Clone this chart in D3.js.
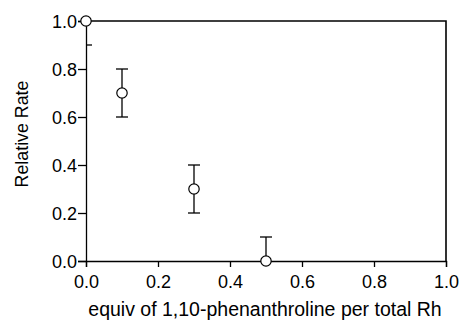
<!DOCTYPE html>
<html><head><meta charset="utf-8">
<script src="https://cdn.jsdelivr.net/npm/d3@7"></script>
<style>body{margin:0;background:#fff}svg{display:block}text{font-family:"Liberation Sans",Arial,sans-serif;fill:#000}</style>
</head><body>
<svg id="c" width="459" height="320"></svg>
<script>
const xValues = [0.0, 0.1, 0.3, 0.5];
const yValues = [1.0, 0.7, 0.3, 0.0];
const yErrors = [0.1, 0.1, 0.1, 0.1];
const xTicks = [0.0, 0.2, 0.4, 0.6, 0.8, 1.0];
const yTicks = [0.0, 0.2, 0.4, 0.6, 0.8, 1.0];
const xTitle = "equiv of 1,10-phenanthroline per total Rh";
const yTitle = "Relative Rate";

const m = {l: 86, t: 21, r: 13, b: 59};
const W = 459, H = 320;
const iw = W - m.l - m.r, ih = H - m.t - m.b;
const svg = d3.select("#c");
const x = d3.scaleLinear().domain([0, 1]).range([0, iw]);
const y = d3.scaleLinear().domain([0, 1]).range([ih, 0]);
const g = svg.append("g").attr("transform", `translate(${m.l},${m.t})`);

svg.append("defs").append("clipPath").attr("id", "clip")
  .append("rect").attr("x", 0).attr("y", 0).attr("width", iw).attr("height", ih);

// frame top & right
g.append("path").attr("d", `M0,0H${iw}V${ih}`).attr("fill", "none").attr("stroke", "#000").attr("stroke-width", 1.6);

const xa = g.append("g").attr("transform", `translate(0,${ih})`)
  .call(d3.axisBottom(x).tickValues(xTicks).tickFormat(d3.format(".1f")).tickSize(6).tickPadding(8));
const ya = g.append("g")
  .call(d3.axisLeft(y).tickValues(yTicks).tickFormat(d3.format(".1f")).tickSize(8).tickPadding(1));
[xa, ya].forEach(a => {
  a.attr("font-family", null).attr("font-size", null);
  a.select(".domain").attr("stroke", "#000").attr("stroke-width", 1.3);
  a.selectAll(".tick line").attr("stroke", "#000").attr("stroke-width", 1.3);
  a.selectAll("text").style("font-size", "18px").attr("fill", "#000");
});
xa.selectAll("text").attr("dy", "0.72em");
ya.selectAll("text").attr("dy", "0.36em");

// error bars (clipped)
const eb = g.append("g").attr("clip-path", "url(#clip)");
const cap = 6;
xValues.forEach((xv, i) => {
  const cx = x(xv), lo = y(yValues[i] - yErrors[i]), hi = y(yValues[i] + yErrors[i]);
  eb.append("line").attr("x1", cx).attr("x2", cx).attr("y1", lo).attr("y2", hi).attr("stroke", "#000").attr("stroke-width", 1.3);
  [lo, hi].forEach(yy => eb.append("line").attr("x1", cx - cap).attr("x2", cx + cap).attr("y1", yy).attr("y2", yy).attr("stroke", "#000").attr("stroke-width", 1.3));
});

// markers
g.selectAll("circle.pt").data(xValues).join("circle").attr("class", "pt")
  .attr("cx", d => x(d)).attr("cy", (d, i) => y(yValues[i])).attr("r", 5.2)
  .attr("fill", "#fff").attr("stroke", "#000").attr("stroke-width", 1.2);

svg.append("text").attr("x", m.l + iw / 2 - 1).attr("y", 316).attr("text-anchor", "middle")
  .style("font-size", "19.5px").text(xTitle);
svg.append("text").attr("transform", `translate(28,134) rotate(-90)`).attr("text-anchor", "middle")
  .style("font-size", "17.8px").text(yTitle);
</script>
</body></html>
